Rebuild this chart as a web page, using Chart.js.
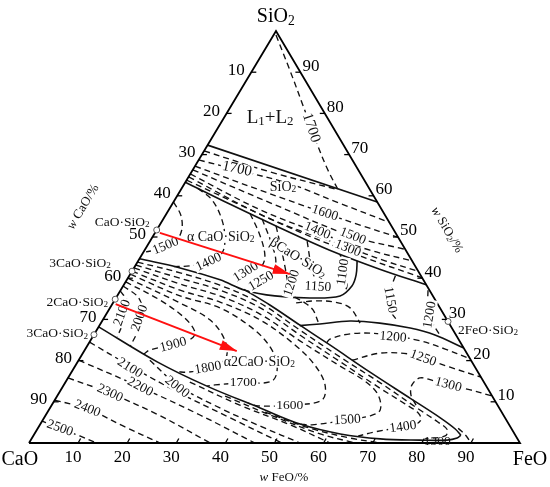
<!DOCTYPE html>
<html><head><meta charset="utf-8">
<script src="https://cdn.jsdelivr.net/npm/chart.js@4.4.1/dist/chart.umd.min.js"></script>
<style>html,body{margin:0;padding:0;background:#fff;}#wrap{width:550px;height:487px;}</style>
</head><body><div id="wrap"><canvas id="c" width="550" height="487"></canvas></div>
<script>
// All compositions are [w(FeO) %, w(SiO2) %]; w(CaO) = 100 - FeO - SiO2
const tickValues = [10,20,30,40,50,60,70,80,90];
const triangleEdge = [[0,0],[100,0],[0,100],[0,0]];

// phase-field boundaries (solid)
const boundaryL1L2 = [[0,72.3],[41.5,58.5]];
const boundarySiO2Field = [[0,63.3],[11.7,58.0],[24.9,52.2],[37.7,46.8],[50.2,42.2],[61.6,38.4]];
const boundaryCSField = [[0,44.7],[9.4,42.5],[19.0,39.6],[25.3,37.1],[32.1,35.7],[39.5,35.2],[45.4,35.7],[46.6,38.1],[46.1,40.8],[44.6,44.2]];
const boundaryC2SUpper = [[25.0,37.3],[32.2,33.5],[40.8,28.6],[49.3,23.8],[60.8,17.2],[72.1,10.9],[80.7,6.1],[85.1,3.4],[87.0,1.9]];
const boundaryC2SLower = [[0,28.2],[16.2,19.7],[29.3,13.8],[42.8,8.5],[52.9,4.6],[62.3,2.2],[71.0,1.0],[79.3,0.7],[84.8,0.7],[86.6,1.2],[87.0,1.9]];
const boundaryFayalite = [[40.8,28.5],[44.7,28.9],[50.5,29.6],[56.8,29.1],[63.6,27.9],[69.5,26.2],[76.8,23.1]];

// isotherms (dashed)
const iso1700Liq = [[0.5,99],[7.6,90.5],[15.5,80.8],[22.4,72.3],[27.5,66.3],[32,61.5]];
const isoSiO2a = [[0,70.9],[16.0,65.8],[32,61.5]];
const iso1700Si = [[0,68.7],[9.0,66.3],[21.5,62.9],[34.0,58.2],[46.3,53.6]];
const iso1600Si = [[0,67.2],[16.1,61.4],[32.2,55.8],[40.8,52.9],[50.1,49.9]];
const iso1500Si = [[0,66.3],[19.8,58.3],[40.5,50.2],[53,47]];
const iso1400Si = [[0,65.3],[18.6,56.6],[32.9,51.2],[45.9,46.8],[55.8,44.2]];
const iso1300Si = [[0,64.6],[21.7,54.4],[40.8,47.6],[50.3,44.2],[58.3,41.7]];
const isoSiO2b = [[0,63.8],[13.9,57.8],[29.4,51.2],[44.6,45.4],[59.9,40.1]];

const iso1500CS = [[0,58.5],[3.1,55.3],[5.1,51.7],[5.2,48.8],[3.0,47.1],[0.5,46.4]];
const iso1400CS = [[3.3,61.8],[7.6,59.0],[12.1,54.1],[15.1,49.3],[16.1,46.1],[14.6,44.2],[11.2,43.0],[7.6,42.8]];
const iso1300CS = [[17.0,55.7],[21.6,50.5],[25.1,45.6],[25.8,43.0],[24.2,41.3],[22.6,38.4]];
const iso1250CS = [[20.1,54.4],[25.3,48.1],[28.2,43.9],[28.8,41.0],[27.0,39.1],[26.0,37.6]];
const iso1200CS = [[23.8,52.7],[27.9,46.8],[30.8,42.5],[35.2,35.7]];
const iso1150CS = [[32,49],[35.7,43.2],[38.2,39.8]];
const iso1100CS = [[40.3,45.8],[42.8,42.5],[45.5,38.3],[45.9,36.7]];
const isoLoopA = [[37.3,34.0],[40.9,34.5],[45.1,34.2],[48.9,32.8],[52.8,29.1]];
const isoLoopB = [[36.3,35.4],[39.1,34.0],[41.6,32.3],[44.1,29.4]];
const iso1150Fa = [[54.2,40.6],[55.2,35.9],[57.3,32.3],[60.4,29.4]];
const iso1200Fa = [[62.6,37.1],[64.4,33.5],[67.3,29.4],[70.5,26.2]];
const iso1200Ol = [[48.4,24.3],[48.6,25.2],[52.1,26.5],[58.2,26.5],[67.2,24.8],[73.3,22.8],[79.2,20.6]];
const iso1250Ol = [[55.7,20.1],[60.5,21.8],[66.7,21.6],[69.9,20.6],[76.5,18.4],[84.0,16.0]];
const iso1300Ol = [[74.2,9.2],[71.9,11.7],[70.9,14.1],[71.7,15.8],[75.1,15.0],[78.3,14.1],[83.4,12.9],[88.6,11.4]];
const isoTip = [[85.6,3.6],[88.2,1.7],[90,0]];

const arc2100 = [[0,36.9],[2.9,34.2],[4.3,30.3],[5,25.8]];
const arc2000 = [[0,38.1],[4.4,35.4],[7.2,31.8],[8.4,27.9],[8.8,23.6]];
const arc1900 = [[0,39.1],[9.2,34.7],[16.5,30.3],[20.4,26.7],[19.9,24.8],[17.4,23.8],[13.3,22.6],[12.5,21.6]];
const arc1800 = [[0,40.0],[13.6,34.0],[21.8,29.9],[27.3,25.0],[29.7,20.6],[27.3,18.2],[23.7,17.2],[21.5,17.3]];
const arc1700 = [[0,41.0],[12.8,35.7],[22.4,32.8],[32.2,27.4],[38.1,22.6],[41.4,18.2],[41.9,15.0],[36.1,14.6],[30.8,14.1],[29.3,13.8]];
const arc1600 = [[0,41.7],[12.1,37.1],[21.7,34.2],[32.0,29.9],[42.2,23.8],[48.7,18.9],[53.2,14.1],[54.4,10.4],[48.5,9.2],[42.1,9.0],[39.7,9.7]];
const arc1500 = [[0,42.5],[11.3,38.6],[20.9,35.7],[31.3,31.3],[42.7,24.8],[53.9,18.7],[60.9,15.0],[65.2,11.7],[67.5,8.0],[66.2,6.6],[62.0,5.6],[55.4,4.4],[52.9,4.6]];
const arc1400 = [[0,43.2],[10.6,40.0],[20.2,37.1],[30.6,32.8],[42.0,26.2],[53.5,19.7],[64.8,13.3],[71.8,9.5],[75.6,7.3],[77.0,5.6],[76.2,4.4],[74.2,3.9],[69.1,2.7],[66.2,1.7]];
const arc1300 = [[0,43.9],[10.0,41.3],[19.6,38.3],[29.9,34.0],[41.4,27.4],[52.8,20.9],[64.2,14.6],[75.6,8.0],[80.7,5.1],[83.6,3.2],[83.9,1.7],[80.2,1.0]];

const iso2100C3S = [[0,24.5],[11.2,18.7],[24.6,12.1],[37.9,6.1],[51.5,0]];
const iso2000C3S = [[14.5,20.1],[23.1,14.1],[34.6,8.5],[45.5,3.9],[55.2,0]];
const iso2200C3S = [[0,20.1],[15.8,13.6],[31.4,6.8],[46,0]];
const iso2300C3S = [[0,15.8],[10.4,12.1],[23.4,6.6],[36.9,0]];
const iso2400C3S = [[0,10.4],[7.7,8.3],[17.6,3.9],[26.7,0]];
const iso2500C3S = [[0,5.3],[4.5,3.6],[9.5,1.7],[13.8,0]];
const iso1900C3S = [[25.3,14.8],[38.3,9.2],[51.0,4.4],[61.3,0]];
const iso1800C3S = [[34.2,11.4],[45.7,6.8],[58.2,2.2],[66.4,0]];
const iso1700C3S = [[44.3,7.5],[55.4,3.6],[64.8,1.2],[71.5,0]];

// red arrows
const arrowFromCS = [[1.0,51.0],[32.5,41.0]];
const arrowFromC2S = [[0.7,33.7],[31.1,22.3]];

// compound points
const compoundPoints = [[0,51.7],[0,41.7],[0,34.9],[0,26.3],[70.5,29.5]];

// isotherm and field labels: text, FeO, SiO2
const isoLabels = [
 ["1700",19.0,76.5],["1700",8.9,66.5],["1600",32.2,55.8],["1500",40.7,50.2],["1400",32.8,51.5],["1300",41.2,47.2],
 ["1500",3.8,47.8],["1400",14.5,43.9],["1300",23.3,41.5],["1250",27.5,39.3],["1200",34.0,38.8],["1150",39.8,37.9],
 ["1100",43.1,41.5],["1150",56.1,34.7],["1200",66.0,31.1],["1200",61.2,25.7],["1250",69.9,20.6],["1300",78.3,14.1],
 ["1900",17.4,23.8],["1800",27.3,18.2],["1700",36.3,14.6],["1600",48.5,9.2],["1500",62.0,5.6],["1400",74.2,3.9],
 ["2100",3.1,31.6],["2000",7.3,30.3],["2100",11.4,18.2],["2000",23.3,13.6],["2200",15.8,13.6],["2300",10.4,12.1],
 ["2400",7.7,8.3],["2500",4.5,3.6]
];
const fieldLabels = [
 ["L_1+L_2",9.4,78.9],["SiO_2",20.5,62.1],["α CaO·SiO_2",13.9,50.0],["βCaO·SiO_2",32.2,44.9],["α2CaO·SiO_2",37.0,19.7]
];
const compoundLabels = [
 ["CaO·SiO_2",-2.4,53.6],["3CaO·SiO_2",-5.3,43.7],["2CaO·SiO_2",-1.1,34.2],["3CaO·SiO_2",-1.3,26.5],["2FeO·SiO_2",73.6,27.4]
];
const bottomHiddenLabel = ["1300",83.0,0.3];

// ---------------- drawing ----------------
const K = 0.50305;
const toXY = p => ({x: p[0] + K*p[1], y: p[1]});
const isoAngles = [72,12,18,22,22,22, -22,-25,-32,-30,-72,3, -82,80,-80,5,20,15, -15,-10,0,0,-3,-8, -70,-70,32,38,28,25, 22,20];
const fieldAngles = [0,0,0,32,0];
const fieldSizes = [19,14,14,14,14];
const compoundAlign = ['right','right','right','right','left'];

const datasets = [];
function add(arr, style, tension){
  datasets.push(Object.assign({data: arr.map(toXY), showLine:true, pointRadius:0, fill:false, tension: tension, clip:false}, style));
}
const redStyle = {borderColor:'#ff1010', borderWidth:2};
const solidStyle = {borderColor:'#111', borderWidth:1.6};
const dashStyle = {borderColor:'#111', borderWidth:1.35, borderDash:[6,4]};

add(arrowFromC2S, redStyle, 0);   // index 0
add(arrowFromCS, redStyle, 0);    // index 1
datasets.push({data: compoundPoints.map(toXY), showLine:false, pointRadius:3, pointBorderWidth:1, pointBorderColor:'#555', pointBackgroundColor:'#fff', clip:false}); // index 2
add(triangleEdge, {borderColor:'#000', borderWidth:1.8}, 0);
add(boundaryL1L2, solidStyle, 0);
[boundarySiO2Field, boundaryCSField, boundaryC2SUpper, boundaryC2SLower, boundaryFayalite].forEach(a=>add(a, solidStyle, 0.35));
[iso1700Liq, isoSiO2a, iso1700Si, iso1600Si, iso1500Si, iso1400Si, iso1300Si, isoSiO2b,
 iso1500CS, iso1400CS, iso1300CS, iso1250CS, iso1200CS, iso1150CS, iso1100CS, isoLoopA, isoLoopB,
 iso1150Fa, iso1200Fa, iso1200Ol, iso1250Ol, iso1300Ol, isoTip,
 arc2100, arc2000, arc1900, arc1800, arc1700, arc1600, arc1500, arc1400, arc1300,
 iso2100C3S, iso2000C3S, iso2200C3S, iso2300C3S, iso2400C3S, iso2500C3S, iso1900C3S, iso1800C3S, iso1700C3S
].forEach(a=>add(a, dashStyle, 0.35));

const FONT = '"Liberation Serif", "Times New Roman", serif';
function parseRich(s){
  const segs=[]; let buf=''; let i=0;
  while(i<s.length){
    const c=s[i];
    if(c==='_'||c==='~'){ if(buf){segs.push({t:buf}); buf='';} segs.push(c==='_'?{t:s[i+1],sub:true}:{t:s[i+1],it:true}); i+=2; continue; }
    buf+=c; i++;
  }
  if(buf) segs.push({t:buf});
  return segs;
}
function fontFor(seg,size){ const sz = seg.sub ? size*0.68 : size; return (seg.it?'italic ':'') + sz.toFixed(1) + 'px ' + FONT; }
function drawRich(ctx, s, x, y, o){
  const size = o.size || 13.5; const segs = parseRich(s);
  ctx.save(); ctx.translate(x,y); ctx.rotate((o.rot||0)*Math.PI/180);
  let w=0; for(const sg of segs){ ctx.font=fontFor(sg,size); w+=ctx.measureText(sg.t).width; }
  let x0 = o.align==='left' ? 0 : (o.align==='right' ? -w : -w/2);
  if(o.bg){ ctx.fillStyle='#fff'; ctx.fillRect(x0-1.5, -size*0.42, w+3, size*0.84); }
  ctx.fillStyle = o.color || '#111'; ctx.textBaseline='middle'; ctx.textAlign='left';
  for(const sg of segs){ ctx.font=fontFor(sg,size); ctx.fillText(sg.t, x0, sg.sub ? size*0.2 : 0); x0 += ctx.measureText(sg.t).width; }
  ctx.restore();
}

const ternaryPlugin = {
  id:'ternary',
  beforeDatasetDraw(chart, args){
    if(args.index !== 1) return;
    const ctx = chart.ctx, xs = chart.scales.x, ys = chart.scales.y;
    const px = (f,s) => [xs.getPixelForValue(f + K*s), ys.getPixelForValue(s)];
    isoLabels.forEach((l,i)=>{ const [x,y]=px(l[1],l[2]); drawRich(ctx,l[0],x,y,{rot:isoAngles[i],bg:true,size:(i===0||i===1)?15:13.5}); });
    fieldLabels.forEach((l,i)=>{ const [x,y]=px(l[1],l[2]); drawRich(ctx,l[0],x,y,{rot:fieldAngles[i],bg:true,size:fieldSizes[i]}); });
    const [bx,by]=px(bottomHiddenLabel[1],bottomHiddenLabel[2]); drawRich(ctx,bottomHiddenLabel[0],bx,by,{size:13.5});
  },
  afterDatasetsDraw(chart){
    const ctx = chart.ctx, xs = chart.scales.x, ys = chart.scales.y;
    const px = (f,s) => [xs.getPixelForValue(f + K*s), ys.getPixelForValue(s)];
    // arrowheads
    [arrowFromCS, arrowFromC2S].forEach(a=>{
      const [x0,y0]=px(a[0][0],a[0][1]); const [x1,y1]=px(a[1][0],a[1][1]);
      const ang=Math.atan2(y1-y0,x1-x0), L=17, W=5;
      ctx.save(); ctx.fillStyle='#ff1010'; ctx.beginPath();
      ctx.moveTo(x1,y1);
      ctx.lineTo(x1-L*Math.cos(ang)+W*Math.sin(ang), y1-L*Math.sin(ang)-W*Math.cos(ang));
      ctx.lineTo(x1-L*Math.cos(ang)-W*Math.sin(ang), y1-L*Math.sin(ang)+W*Math.cos(ang));
      ctx.closePath(); ctx.fill(); ctx.restore();
    });
    // ticks and tick labels
    ctx.save(); ctx.strokeStyle='#000'; ctx.lineWidth=1.3;
    tickValues.forEach(v=>{
      let [x,y]=px(0,100-v); ctx.beginPath(); ctx.moveTo(x,y); ctx.lineTo(x+5,y); ctx.stroke();
      drawRich(ctx,String(v),x-15,y-2,{size:17,color:'#000'});
      [x,y]=px(100-v,v); ctx.beginPath(); ctx.moveTo(x,y); ctx.lineTo(x-5,y); ctx.stroke();
      drawRich(ctx,String(v),x+2,y-6,{size:17,align:'left',color:'#000'});
      [x,y]=px(v,0); ctx.beginPath(); ctx.moveTo(x,y); ctx.lineTo(x+2.5,y-4.5); ctx.stroke();
      drawRich(ctx,String(v),x-5,y+15,{size:17,color:'#000'});
    });
    ctx.restore();
    // vertex labels
    let p=px(-1.75,103.4); drawRich(ctx,'SiO_2',p[0],p[1],{size:20,color:'#000'});
    p=px(0.2,-4.1); drawRich(ctx,'CaO',p[0],p[1],{size:20,color:'#000'});
    p=px(104.1,-4.1); drawRich(ctx,'FeO',p[0],p[1],{size:20,color:'#000'});
    // axis titles
    p=px(-17.8,57.3); drawRich(ctx,'~w CaO/%',p[0],p[1],{size:13,rot:-59});
    p=px(59.1,51.7); drawRich(ctx,'~w SiO_2/%',p[0],p[1],{size:13,rot:59.5});
    p=px(56.2,-8.5); drawRich(ctx,'~w FeO/%',p[0],p[1],{size:13});
    // compound labels
    compoundLabels.forEach((l,i)=>{ const [x,y]=px(l[1],l[2]); drawRich(ctx,l[0],x,y,{size:13.5,align:compoundAlign[i]}); });
  }
};

new Chart(document.getElementById('c'), {
  type:'scatter',
  data:{datasets},
  options:{
    responsive:false, animation:false, devicePixelRatio:1, events:[],
    layout:{padding:{left:29,right:30,top:31,bottom:44}},
    scales:{x:{type:'linear',min:0,max:100,display:false}, y:{type:'linear',min:0,max:100,display:false}},
    plugins:{legend:{display:false}, tooltip:{enabled:false}}
  },
  plugins:[ternaryPlugin]
});
</script></body></html>
